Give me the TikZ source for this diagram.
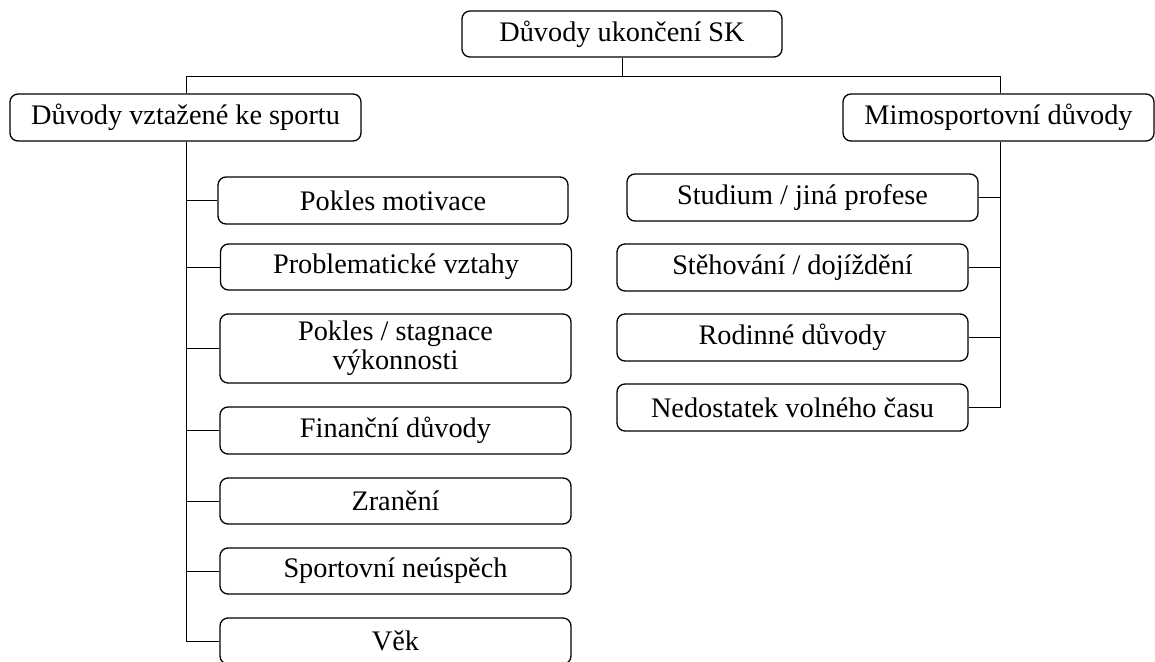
\documentclass[tikz,border=0pt]{standalone}
\usepackage{fontspec}
\setmainfont{Liberation Serif}
\begin{document}
\begin{tikzpicture}[x=1pt,y=-1pt,
  reason/.style={draw, line width=1.3pt, rounded corners=8pt, rectangle,
    inner sep=0pt, align=center, font=\fontsize{28.3}{29}\selectfont,
    minimum width=351pt, minimum height=47pt},
  link/.style={line width=1pt}]
\useasboundingbox (0,0) rectangle (1155,661);
\clip (0,0) rectangle (1155,661);

% root and the two main groups
\node[reason, minimum width=320pt, minimum height=46pt] (root) at (622,34) {Důvody ukončení SK};
\node[reason] (sport) at (185.5,117.5) {Důvody vztažené ke sportu};
\node[reason, minimum width=311pt] (mimo) at (998.5,117.5) {Mimosportovní důvody};

% sport-related reasons
\node[reason, minimum width=350pt] (s1) at (393,200.5) {Pokles motivace};
\node[reason, minimum height=46pt] (s2) at (396,267) {Problematické vztahy};
\node[reason, minimum height=69pt] (s3) at (395.5,348.5) {Pokles / stagnace\\výkonnosti};
\node[reason] (s4) at (395.5,430.5) {Finanční důvody};
\node[reason, minimum height=46pt] (s5) at (395.5,501) {Zranění};
\node[reason, minimum height=46pt] (s6) at (395.5,571) {Sportovní neúspěch};
\node[reason, minimum height=46pt] (s7) at (395.5,641) {Věk};

% other reasons
\node[reason] (m1) at (802.5,197.5) {Studium / jiná profese};
\node[reason] (m2) at (792.5,267.5) {Stěhování / dojíždění};
\node[reason] (m3) at (792.5,337.5) {Rodinné důvody};
\node[reason] (m4) at (792.5,407.5) {Nedostatek volného času};

% junction points of the bracket
\coordinate (jl) at (186,76);
\coordinate (jr) at (1000,76);

\draw[link] (root.south) -- (root.south |- jl);
\draw[link] (jl) -- (jr);
\draw[link] (jl) -- (jl |- sport.north);
\draw[link] (jr) -- (jr |- mimo.north);

% left trunk and its branches
\draw[link] (jl |- sport.south) -- (jl |- s7.west);
\foreach \n in {s1,s2,s3,s4,s5,s6,s7}
  \draw[link] (jl |- \n.west) -- (\n.west);

% right trunk and its branches
\draw[link] (jr |- mimo.south) -- (jr |- m4.east);
\foreach \n in {m1,m2,m3,m4}
  \draw[link] (jr |- \n.east) -- (\n.east);
\end{tikzpicture}
\end{document}
